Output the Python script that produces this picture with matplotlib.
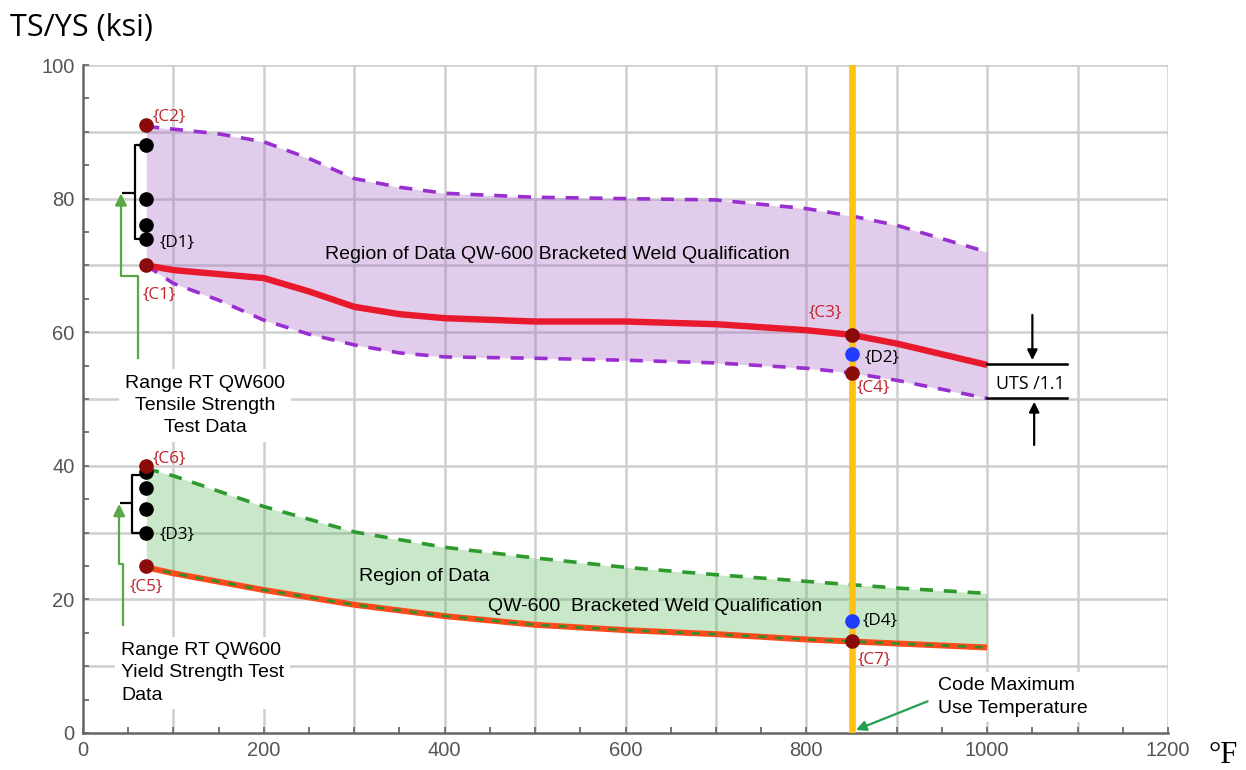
import matplotlib
matplotlib.use("Agg")
import matplotlib.pyplot as plt

# ---------------- data ----------------
ts_temps = [70, 100, 150, 200, 250, 300, 350, 400, 500, 600, 700, 800, 850, 900, 1000]
ts_upper = [90.8, 90.4, 89.7, 88.5, 86.0, 83.0, 81.7, 80.8, 80.2, 80.0, 79.8, 78.5, 77.4, 76.0, 72.0]
ts_min = [70.0, 69.3, 68.7, 68.1, 66.1, 63.8, 62.7, 62.1, 61.6, 61.6, 61.2, 60.3, 59.6, 58.3, 55.1]
ts_lower = [70.0, 67.3, 64.8, 61.8, 59.7, 58.1, 56.9, 56.3, 56.1, 55.8, 55.4, 54.6, 53.9, 52.8, 50.1]

ys_temps = [70, 100, 200, 300, 400, 500, 600, 700, 800, 850, 900, 1000]
ys_upper = [39.6, 38.5, 33.9, 30.1, 27.8, 26.2, 24.8, 23.7, 22.7, 22.2, 21.7, 20.9]
ys_min = [24.8, 23.9, 21.4, 19.2, 17.5, 16.2, 15.4, 14.8, 14.0, 13.7, 13.4, 12.8]

rt_temp = 70
ts_rt_tests = [88, 80, 76, 74]
ys_rt_tests = [39, 36.7, 33.5, 30]
c_points = {"C2": (70, 91), "C1": (70, 70), "C3": (850, 59.6), "C4": (850, 53.9),
            "C6": (70, 40), "C5": (70, 25), "C7": (850, 13.7)}
d_points = {"D2": (850, 56.8), "D4": (850, 16.8)}
code_max_temp = 850

x_major = [0, 200, 400, 600, 800, 1000, 1200]
y_major = [0, 20, 40, 60, 80, 100]

# ---------------- figure ----------------
W, H = 1246, 770
fig = plt.figure(figsize=(W / 100, H / 100), dpi=100)
ax = fig.add_axes([83 / W, 1 - 733 / H, (1168 - 83) / W, (733 - 65) / H])
ax.set_xlim(0, 1200)
ax.set_ylim(0, 100)

SANS = ["Liberation Sans", "DejaVu Sans"]
CAL = ["Open Sans", "DejaVu Sans"]

# grid
grid_c = "#cfcfcf"
for gx in range(100, 1201, 100):
    ax.axvline(gx, color=grid_c, lw=1.8, zorder=0.5)
for gy in range(10, 101, 10):
    ax.axhline(gy, color=grid_c, lw=1.8, zorder=0.5)

# spines / ticks
for s in ["top", "right"]:
    ax.spines[s].set_visible(False)
for s in ["left", "bottom"]:
    ax.spines[s].set_color("#666666")
    ax.spines[s].set_linewidth(1.8)
ax.set_xticks(x_major)
ax.set_yticks(y_major)
ax.set_xticks(range(0, 1201, 50), minor=True)
ax.set_yticks(range(0, 101, 5), minor=True)
ax.tick_params(which="both", direction="in", color="#777777", width=1.4)
ax.tick_params(which="major", length=4, labelsize=14.5, labelcolor="#555555", pad=6)
ax.tick_params(which="minor", length=4)
for lab in ax.get_xticklabels() + ax.get_yticklabels():
    lab.set_family(SANS)

# fills
ax.fill_between(ts_temps, ts_lower, ts_upper, color=(0.62, 0.35, 0.75), alpha=0.3, lw=0, zorder=1)
ax.fill_between(ys_temps, ys_min, ys_upper, color=(0.30, 0.70, 0.30), alpha=0.3, lw=0, zorder=1)

# dashed bounds
dash = (0, (3.6, 3.0))
ax.plot(ts_temps, ts_upper, color="#9a2fd0", lw=2.6, ls=dash, zorder=3)
ax.plot(ts_temps, ts_lower, color="#9a2fd0", lw=2.6, ls=dash, zorder=3)
ax.plot(ys_temps, ys_upper, color="#2e9a2e", lw=2.6, ls=dash, zorder=3)

# minimum curves
ax.plot(ts_temps, ts_min, color="#e8192c", lw=4.6, solid_capstyle="butt",
        solid_joinstyle="round", zorder=4)
ax.plot(ys_temps, ys_min, color="#ff4a1c", lw=4.3, solid_capstyle="butt",
        solid_joinstyle="round", zorder=4)
ax.plot(ys_temps, ys_min, color="#3a8a2a", lw=2.0, ls=(0, (3, 3)), zorder=4.5)

# code max vertical line
ax.axvline(code_max_temp, color="#ffc20e", lw=4.8, zorder=5)

# RT test points
ax.plot([rt_temp] * len(ts_rt_tests), ts_rt_tests, "o", color="black", ms=9.5, zorder=7)
ax.plot([rt_temp] * len(ys_rt_tests), ys_rt_tests, "o", color="black", ms=9.5, zorder=7)
for k, (x, y) in c_points.items():
    ax.plot(x, y, "o", color="#8b0a0a", ms=9.5, zorder=8)
for k, (x, y) in d_points.items():
    ax.plot(x, y, "o", color="#1f3cff", ms=9.5, zorder=8)

# labels
RED = "#c0272d"
lab_kw = dict(fontsize=12.3, family=CAL, va="center", ha="left", zorder=9)
ax.text(77, 92.3, "{C2}", color=RED, **lab_kw)
ax.text(85, 73.4, "{D1}", color="black", **lab_kw)
ax.text(66, 65.6, "{C1}", color=RED, **lab_kw)
ax.text(803, 62.9, "{C3}", color=RED, **lab_kw)
ax.text(864, 56.1, "{D2}", color="black", **lab_kw)
ax.text(856, 51.6, "{C4}", color=RED, **lab_kw)
ax.text(77, 41.0, "{C6}", color=RED, **lab_kw)
ax.text(85, 29.6, "{D3}", color="black", **lab_kw)
ax.text(52, 21.9, "{C5}", color=RED, **lab_kw)
ax.text(862, 16.8, "{D4}", color="black", **lab_kw)
ax.text(857, 10.9, "{C7}", color=RED, **lab_kw)

body = dict(fontsize=14, family=SANS, color="black", zorder=9)
ax.text(525, 71.6, "Region of Data QW-600 Bracketed Weld Qualification", ha="center", va="center", **body)
ax.text(378, 23.4, "Region of Data", ha="center", va="center", **body)
ax.text(633, 18.9, "QW-600  Bracketed Weld Qualification", ha="center", va="center", **body)
ax.text(135, 49.0, "Range RT QW600\nTensile Strength\nTest Data", ha="center", va="center",
        linespacing=1.4, bbox=dict(fc="white", ec="none", pad=4), **body)
ax.text(42, 9.0, "Range RT QW600\nYield Strength Test\nData", ha="left", va="center",
        linespacing=1.4, bbox=dict(fc="white", ec="none", pad=4), **body)
ax.text(946, 5.4, "Code Maximum\nUse Temperature", ha="left", va="center",
        linespacing=1.4, bbox=dict(fc="white", ec="none", pad=4), **body)
ax.text(1048, 52.3, "UTS /1.1", ha="center", va="center", fontsize=12.8, family=CAL, zorder=9)

# brackets (black)
bk = dict(color="black", lw=1.6, zorder=6, solid_capstyle="butt")
ax.plot([66, 57.5, 57.5, 66], [88, 88, 74, 74], **bk)
ax.plot([57.5, 43], [80.8, 80.8], **bk)
ax.plot([66, 54, 54, 66], [38.6, 38.6, 29.9, 29.9], **bk)
ax.plot([54, 41], [34.4, 34.4], **bk)

# green arrows
gc = "#5aa845"
ax.plot([61, 61, 42, 42], [56.1, 68.4, 68.4, 79], color=gc, lw=1.6, zorder=6)
ax.annotate("", xy=(42, 81.2), xytext=(42, 78.5),
            arrowprops=dict(arrowstyle="-|>,head_width=0.35,head_length=0.7", color=gc, lw=1.6))
ax.plot([44, 44, 40, 40], [16.2, 25.3, 25.3, 33], color=gc, lw=1.6, zorder=6)
ax.annotate("", xy=(40, 34.7), xytext=(40, 32.0),
            arrowprops=dict(arrowstyle="-|>,head_width=0.35,head_length=0.7", color=gc, lw=1.6))
ax.annotate("", xy=(852, 0.3), xytext=(937, 4.9),
            arrowprops=dict(arrowstyle="-|>,head_width=0.3,head_length=0.6", color="#22a050", lw=1.6),
            zorder=9)

# UTS/1.1 annotation
ax.plot([1000, 1088], [55.3, 55.3], color="black", lw=1.8, zorder=6)
ax.plot([1000, 1088], [50.1, 50.1], color="black", lw=1.8, zorder=6)
ax.annotate("", xy=(1050, 55.4), xytext=(1050, 63),
            arrowprops=dict(arrowstyle="-|>,head_width=0.3,head_length=0.6", color="black", lw=1.6))
ax.annotate("", xy=(1052, 50.0), xytext=(1052, 42.7),
            arrowprops=dict(arrowstyle="-|>,head_width=0.3,head_length=0.6", color="black", lw=1.6))

# figure titles
fig.text(10 / W, 1 - 36 / H, "TS/YS (ksi)", fontsize=22, family=CAL, va="baseline", ha="left")
fig.text(1208 / W, 1 - 763 / H, "°F", fontsize=22, family=["Liberation Serif", "DejaVu Serif"],
         va="baseline", ha="left")

fig.savefig("out.png", dpi=100, facecolor="white")
